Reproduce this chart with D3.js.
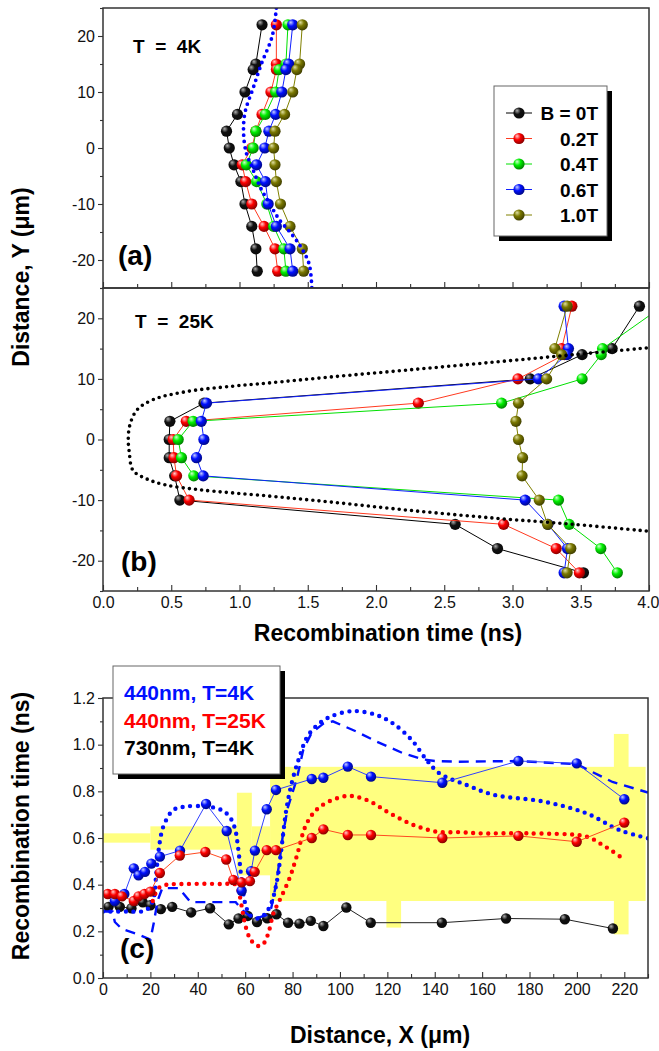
<!DOCTYPE html>
<html><head><meta charset="utf-8">
<script src="https://cdn.jsdelivr.net/npm/d3@7"></script>
<style>
body{margin:0;background:#fff}
text{font-family:"Liberation Sans",Arial,sans-serif}
</style>
</head><body>
<svg id="chart" width="659" height="1051"></svg>
<script>
// ---------------- DATA ----------------
// Panels (a) and (b): distance Y (um) positions
const yPositions = [22, 15, 14, 10, 6, 3, 0, -3, -6, -10, -14, -18, -22];
const fieldLabels = ["B = 0T", "0.2T", "0.4T", "0.6T", "1.0T"];

// (a) T = 4K recombination time (ns)
const a_B00 = [1.165, 1.12, 1.10, 1.04, 0.985, 0.905, 0.925, 0.96, 1.01, 1.04, 1.09, 1.12, 1.13];
const a_B02 = [1.27, 1.27, 1.27, 1.23, 1.165, 1.12, 1.09, 1.02, 1.045, 1.09, 1.18, 1.26, 1.28];
const a_B04 = [1.355, 1.34, 1.29, 1.265, 1.19, 1.12, 1.10, 1.05, 1.125, 1.20, 1.25, 1.325, 1.34];
const a_B06 = [1.39, 1.36, 1.34, 1.31, 1.265, 1.215, 1.185, 1.125, 1.19, 1.21, 1.27, 1.37, 1.39];
const a_B10 = [1.46, 1.44, 1.42, 1.39, 1.33, 1.26, 1.25, 1.26, 1.27, 1.30, 1.37, 1.46, 1.47];
// (a) blue dotted profile
const aFitY = [25, 20, 15, 10.7, 6.3, 2.6, -0.9, -3.3, -6.9, -9.9, -12.9, -15.3, -17.7, -20.7, -25];
const aFitX = [1.27, 1.24, 1.16, 1.10, 1.04, 1.03, 1.05, 1.09, 1.15, 1.22, 1.295, 1.38, 1.45, 1.51, 1.53];

// (b) T = 25K recombination time (ns)
const b_B00 = [3.93, 3.73, 3.51, 3.13, 0.74, 0.49, 0.485, 0.485, 0.525, 0.563, 2.58, 2.89, 3.52];
const b_B02 = [3.435, 3.36, 3.38, 3.04, 2.31, 0.61, 0.514, 0.52, 0.539, 0.631, 2.935, 3.32, 3.49];
const b_B04 = [4.1, 3.66, 3.65, 3.51, 2.92, 0.66, 0.551, 0.575, 0.665, 3.337, 3.415, 3.647, 3.768];
const b_B06 = [3.378, 3.41, 3.40, 3.19, 0.758, 0.72, 0.739, 0.685, 0.734, 3.093, 3.26, 3.403, 3.378];
const b_B10 = [3.40, 3.31, 3.36, 3.25, 3.044, 3.025, 3.044, 3.074, 3.07, 3.196, 3.257, 3.427, 3.40];
// (b) black dotted profile
const bFitY = [15.1, 14, 12.8, 11.5, 10.3, 9.3, 8.8, 7.9, 6.6, 4.9, 2.4, 0, -2, -5.1, -6.5, -7.5, -8.3, -9.3, -10.3, -11.7, -13, -14, -15.1];
const bFitX = [3.98, 3.45, 2.88, 2.25, 1.66, 1.2, 0.95, 0.61, 0.37, 0.25, 0.197, 0.185, 0.192, 0.22, 0.32, 0.46, 0.71, 1.2, 1.66, 2.25, 2.88, 3.45, 3.98];

// (c) recombination time vs distance X
const legendC = ["440nm, T=4K", "440nm, T=25K", "730nm, T=4K"];
const c730X = [2.3, 7.1, 12, 16.8, 20, 24.4, 29.2, 37.2, 45.2, 53.1, 57.2, 61.1, 65, 69.3, 73.2, 78.1, 82.9, 87.7, 93, 102.7, 113, 143, 170.1, 194.9, 215.2];
const c730V = [0.305, 0.305, 0.299, 0.324, 0.312, 0.295, 0.305, 0.281, 0.299, 0.23, 0.255, 0.266, 0.24, 0.256, 0.273, 0.237, 0.233, 0.245, 0.223, 0.302, 0.237, 0.237, 0.255, 0.252, 0.212];
const c440_4X = [5, 9, 13, 15, 17.7, 20.4, 24, 32.5, 43.5, 52.2, 58.5, 62.5, 64.1, 69.1, 73, 88.1, 93, 103.3, 113.1, 143.2, 175.3, 199.9, 220];
const c440_4V = [0.33, 0.36, 0.47, 0.44, 0.455, 0.49, 0.52, 0.546, 0.746, 0.63, 0.374, 0.458, 0.546, 0.723, 0.806, 0.853, 0.858, 0.906, 0.863, 0.837, 0.93, 0.92, 0.766];
const c440_25X = [2, 5, 8, 13, 15, 17.5, 20, 24, 32.4, 43.2, 52, 55, 58.5, 62, 64, 69.1, 73, 88.1, 93, 103.3, 113.1, 143.2, 175.3, 199.9, 220];
const c440_25V = [0.36, 0.36, 0.35, 0.33, 0.35, 0.36, 0.37, 0.45, 0.525, 0.54, 0.508, 0.42, 0.41, 0.415, 0.455, 0.548, 0.548, 0.6, 0.637, 0.613, 0.613, 0.6, 0.609, 0.584, 0.666];
// (c) blue dotted profile
const cDotBX = [0, 10, 18, 21, 22.5, 23.5, 25.5, 29.7, 35, 43.8, 50, 53.5, 55.7, 57, 58.5, 60, 62, 65, 68, 71, 73.5, 75, 77.5, 80, 83, 86, 90, 96, 105.6, 115.5, 122.5, 130.3, 136.6, 142, 153.5, 165, 186, 204, 218, 230];
const cDotBV = [0.285, 0.285, 0.29, 0.33, 0.45, 0.55, 0.65, 0.72, 0.735, 0.735, 0.72, 0.69, 0.64, 0.56, 0.42, 0.32, 0.27, 0.255, 0.27, 0.32, 0.42, 0.53, 0.73, 0.85, 0.95, 1.03, 1.08, 1.12, 1.144, 1.127, 1.09, 1.02, 0.934, 0.877, 0.827, 0.785, 0.756, 0.706, 0.634, 0.599];
// (c) blue dashed profile
const cDashBX = [0, 4, 5, 8, 14, 20, 21.5, 23, 25, 32, 37, 50, 56, 59, 62, 66, 69, 71, 73, 74.5, 76, 78, 81.7, 84.5, 88, 93, 97, 107, 115.5, 126.7, 135, 140, 150, 175, 200, 215, 230];
const cDashBV = [0.285, 0.285, 0.24, 0.21, 0.19, 0.165, 0.24, 0.33, 0.385, 0.385, 0.325, 0.325, 0.325, 0.29, 0.265, 0.26, 0.27, 0.3, 0.4, 0.5, 0.62, 0.73, 0.85, 0.977, 1.05, 1.09, 1.1, 1.056, 1.013, 0.963, 0.937, 0.93, 0.927, 0.93, 0.916, 0.84, 0.795];
// (c) red dotted profile
const cDotRX = [21, 22.5, 24, 27, 35, 50, 56, 57.5, 59, 60.5, 62, 64, 66, 68, 70, 72, 74.4, 78.8, 81.7, 86, 91.6, 102.8, 111.3, 121.1, 131, 140.8, 150.7, 159, 178.8, 204.1, 209.7, 214, 219];
const cDotRV = [0.33, 0.37, 0.39, 0.4, 0.403, 0.403, 0.4, 0.36, 0.28, 0.21, 0.17, 0.145, 0.137, 0.15, 0.2, 0.28, 0.33, 0.43, 0.52, 0.663, 0.734, 0.78, 0.763, 0.706, 0.656, 0.627, 0.625, 0.62, 0.62, 0.606, 0.577, 0.55, 0.515];
// (c) yellow shaded regions: [x0, x1] and [lo, hi]
const bandX0 = [0, 20, 56.5, 62.8, 70.5, 119.6, 215.6];
const bandX1 = [20, 56.5, 62.8, 70.5, 229, 125.8, 221.8];
const bandLo = [0.58, 0.55, 0.44, 0.44, 0.33, 0.216, 0.187];
const bandHi = [0.62, 0.65, 0.794, 0.65, 0.905, 0.34, 1.046];

// tick values
const yTicksAB = [-20, -10, 0, 10, 20];
const yMinorAB = [-25, -15, -5, 5, 15, 25];
const xTicksAB = [0, 0.5, 1, 1.5, 2, 2.5, 3, 3.5, 4];
const xMinorAB = [0.25, 0.75, 1.25, 1.75, 2.25, 2.75, 3.25, 3.75];
const yTicksC = [0, 0.2, 0.4, 0.6, 0.8, 1.0, 1.2];
const yMinorC = [0.1, 0.3, 0.5, 0.7, 0.9, 1.1];
const xTicksC = [0, 20, 40, 60, 80, 100, 120, 140, 160, 180, 200, 220];
const xMinorC = [10, 30, 50, 70, 90, 110, 130, 150, 170, 190, 210, 230];

// ---------------- DRAWING ----------------
const svg = d3.select("#chart");
const defs = svg.append("defs");
const AXC = "#333";

function sphereGrad(id, color, hi) {
  const g = defs.append("radialGradient").attr("id", id)
    .attr("cx", "40%").attr("cy", "38%").attr("r", "65%").attr("fx", "32%").attr("fy", "28%");
  g.append("stop").attr("offset", "0%").attr("stop-color", hi);
  g.append("stop").attr("offset", "45%").attr("stop-color", color);
  g.append("stop").attr("offset", "100%").attr("stop-color", d3.interpolateRgb(color, "#000")(0.5));
}
sphereGrad("gK", "#111", "#b0b0b0");
sphereGrad("gR", "#ff0000", "#ffd0d0");
sphereGrad("gG", "#00f000", "#d0ffd0");
sphereGrad("gB", "#0010ff", "#c8d0ff");
sphereGrad("gO", "#7a7800", "#e0e0a0");

const xAB = d3.scaleLinear().domain([0, 4]).range([103, 649]);
const yA = d3.scaleLinear().domain([-25, 25]).range([288, 8]);
const yB = d3.scaleLinear().domain([-25, 25]).range([591, 288]);
const xC = d3.scaleLinear().domain([0, 230]).range([103, 648]);
const yC = d3.scaleLinear().domain([0, 1.2]).range([978, 698]);

function clip(id, xs, ys) {
  defs.append("clipPath").attr("id", id).append("rect")
    .attr("x", xs.range()[0]).attr("y", ys.range()[1])
    .attr("width", xs.range()[1] - xs.range()[0]).attr("height", ys.range()[0] - ys.range()[1]);
}
clip("cA", xAB, yA); clip("cB", xAB, yB); clip("cC", xC, yC);

function styleAxis(g) {
  g.select(".domain").remove();
  g.selectAll(".tick line").attr("stroke", AXC).attr("stroke-width", 1.1);
  g.selectAll(".tick text").attr("fill", "#111").attr("font-size", 16)
    .attr("font-family", '"Liberation Sans",Arial,sans-serif');
}
function leftAxis(xs, ys, major, minor, fmt) {
  const x0 = xs.range()[0];
  svg.append("g").attr("transform", `translate(${x0},0)`)
    .call(d3.axisLeft(ys).tickValues(minor).tickSize(3).tickFormat(""))
    .call(styleAxis);
  svg.append("g").attr("transform", `translate(${x0},0)`)
    .call(d3.axisLeft(ys).tickValues(major).tickSize(5).tickPadding(3).tickFormat(fmt))
    .call(styleAxis);
}
function bottomAxis(xs, ys, major, minor, fmt, labels) {
  const y0 = ys.range()[0];
  svg.append("g").attr("transform", `translate(0,${y0})`)
    .call(d3.axisTop(xs).tickValues(minor).tickSize(4).tickFormat(""))
    .call(styleAxis);
  svg.append("g").attr("transform", `translate(0,${y0})`)
    .call(d3.axisTop(xs).tickValues(major).tickSize(6).tickFormat(""))
    .call(styleAxis);
  if (labels) {
    return svg.append("g").attr("transform", `translate(0,${y0})`)
      .call(d3.axisBottom(xs).tickValues(major).tickSize(0).tickPadding(6).tickFormat(fmt))
      .call(styleAxis);
  }
  return null;
}
function frame(xs, ys) {
  svg.append("rect").attr("x", xs.range()[0]).attr("y", ys.range()[1])
    .attr("width", xs.range()[1] - xs.range()[0]).attr("height", ys.range()[0] - ys.range()[1])
    .attr("fill", "none").attr("stroke", AXC).attr("stroke-width", 1.5);
}
function dotted(g, pts, xs, ys, color, w, gap, curve) {
  g.append("path").datum(pts)
    .attr("d", d3.line().x(d => xs(d[0])).y(d => ys(d[1])).curve(curve || d3.curveCatmullRom))
    .attr("fill", "none").attr("stroke", color).attr("stroke-width", w)
    .attr("stroke-linecap", "round").attr("stroke-dasharray", `0,${gap}`);
}
function series(g, pts, xs, ys, lineColor, grad, r) {
  g.append("path").datum(pts)
    .attr("d", d3.line().x(d => xs(d[0])).y(d => ys(d[1])))
    .attr("fill", "none").attr("stroke", lineColor).attr("stroke-width", 1);
  g.selectAll(null).data(pts).join("circle")
    .attr("cx", d => xs(d[0])).attr("cy", d => ys(d[1])).attr("r", r)
    .attr("fill", `url(#${grad})`);
}
const fmtInt = d => String(d);
const fmt1 = d => d.toFixed(1);

// ---- Panel (a) & (b) ----
const abSeries = [
  {a: a_B00, b: b_B00, line: "#000", grad: "gK"},
  {a: a_B02, b: b_B02, line: "#ff3a20", grad: "gR"},
  {a: a_B04, b: b_B04, line: "#00e000", grad: "gG"},
  {a: a_B06, b: b_B06, line: "#1020ff", grad: "gB"},
  {a: a_B10, b: b_B10, line: "#808000", grad: "gO"}
];
const gA = svg.append("g").attr("clip-path", "url(#cA)");
const gB = svg.append("g").attr("clip-path", "url(#cB)");
abSeries.forEach(s => {
  series(gA, s.a.map((v, i) => [v, yPositions[i]]), xAB, yA, s.line, s.grad, 5.6);
});
abSeries.forEach(s => {
  series(gB, s.b.map((v, i) => [v, yPositions[i]]), xAB, yB, s.line, s.grad, 5.6);
});
dotted(gA, aFitX.map((v, i) => [v, aFitY[i]]), xAB, yA, "#0000ff", 3.8, 6.3);
dotted(gB, bFitX.map((v, i) => [v, bFitY[i]]), xAB, yB, "#000", 3.6, 6.2);

leftAxis(xAB, yA, yTicksAB, yMinorAB, fmtInt);
leftAxis(xAB, yB, yTicksAB, yMinorAB, fmtInt);
bottomAxis(xAB, yA, xTicksAB, xMinorAB, fmt1, false);
const bxAxis = bottomAxis(xAB, yB, xTicksAB, xMinorAB, fmt1, true);
bxAxis.selectAll(".tick text").filter(d => d === 4).attr("text-anchor", "end").attr("dx", 10);
frame(xAB, yA); frame(xAB, yB);

// labels in (a)/(b)
svg.append("text").attr("x", 133).attr("y", 53).attr("font-size", 19).attr("font-weight", "bold")
  .style("white-space", "pre").text("T  =  4K");
svg.append("text").attr("x", 118).attr("y", 265).attr("font-size", 28).attr("font-weight", "bold").text("(a)");
svg.append("text").attr("x", 135).attr("y", 328).attr("font-size", 19).attr("font-weight", "bold")
  .style("white-space", "pre").text("T  =  25K");
svg.append("text").attr("x", 121).attr("y", 571).attr("font-size", 28).attr("font-weight", "bold").text("(b)");

// legend (a)
const lg = svg.append("g");
lg.append("rect").attr("x", 499).attr("y", 91).attr("width", 113).attr("height", 150).attr("fill", "#000");
lg.append("rect").attr("x", 494).attr("y", 86).attr("width", 113).attr("height", 150)
  .attr("fill", "#fff").attr("stroke", "#666").attr("stroke-width", 1);
const legRows = d3.scaleLinear().domain([0, 4]).range([113, 215]);
fieldLabels.forEach((t, i) => {
  const y = legRows(i);
  lg.append("line").attr("x1", 506).attr("x2", 532).attr("y1", y).attr("y2", y)
    .attr("stroke", abSeries[i].line).attr("stroke-width", 1);
  lg.append("circle").attr("cx", 519).attr("cy", y).attr("r", 5.6).attr("fill", `url(#${abSeries[i].grad})`);
  lg.append("text").attr("x", 598).attr("y", y + 7).attr("text-anchor", "end")
    .attr("font-size", 19).attr("font-weight", "bold").text(t);
});

// axis titles (a)/(b)
svg.append("text").attr("transform", "translate(29,277) rotate(-90)").attr("text-anchor", "middle")
  .attr("font-size", 23).attr("font-weight", "bold").text("Distance, Y (\u03bcm)");
svg.append("text").attr("x", 388).attr("y", 641).attr("text-anchor", "middle")
  .attr("font-size", 23).attr("font-weight", "bold").text("Recombination time (ns)");

// ---- Panel (c) ----
const gC = svg.append("g").attr("clip-path", "url(#cC)");
gC.selectAll(null).data(bandX0.map((x0, i) => ({x0, x1: bandX1[i], lo: bandLo[i], hi: bandHi[i]})))
  .join("rect")
  .attr("x", d => xC(d.x0)).attr("width", d => xC(d.x1) - xC(d.x0))
  .attr("y", d => yC(d.hi)).attr("height", d => yC(d.lo) - yC(d.hi))
  .attr("fill", "#ffff80");

series(gC, c730X.map((x, i) => [x, c730V[i]]), xC, yC, "#222", "gK", 5.2);
gC.append("path").datum(cDashBX.map((x, i) => [x, cDashBV[i]]))
  .attr("d", d3.line().x(d => xC(d[0])).y(d => yC(d[1])).curve(d3.curveLinear))
  .attr("fill", "none").attr("stroke", "#0010ff").attr("stroke-width", 2.4).attr("stroke-dasharray", "10,7");
dotted(gC, cDotBX.map((x, i) => [x, cDotBV[i]]), xC, yC, "#0010ff", 4.4, 7.6);
dotted(gC, cDotRX.map((x, i) => [x, cDotRV[i]]), xC, yC, "#ff0000", 4.4, 7.6);
series(gC, c440_4X.map((x, i) => [x, c440_4V[i]]), xC, yC, "#3040ff", "gB", 5.2);
series(gC, c440_25X.map((x, i) => [x, c440_25V[i]]), xC, yC, "#ff4a20", "gR", 5.2);

leftAxis(xC, yC, yTicksC, yMinorC, fmt1);
bottomAxis(xC, yC, xTicksC, xMinorC, fmtInt, true);
frame(xC, yC);

svg.append("text").attr("x", 120).attr("y", 958).attr("font-size", 28).attr("font-weight", "bold").text("(c)");

// legend (c)
const lc = svg.append("g");
lc.append("rect").attr("x", 118).attr("y", 671).attr("width", 167).attr("height", 108).attr("fill", "#000");
lc.append("rect").attr("x", 113).attr("y", 666).attr("width", 167).attr("height", 108)
  .attr("fill", "#fff").attr("stroke", "#666").attr("stroke-width", 1);
const legColors = ["#0010ff", "#ff0000", "#000"];
const legY = d3.scaleLinear().domain([0, 2]).range([700, 755]);
legendC.forEach((t, i) => {
  lc.append("text").attr("x", 124).attr("y", legY(i)).attr("font-size", 21).attr("font-weight", "bold")
    .attr("fill", legColors[i]).text(t);
});

svg.append("text").attr("transform", "translate(29,826) rotate(-90)").attr("text-anchor", "middle")
  .attr("font-size", 23).attr("font-weight", "bold").text("Recombination time (ns)");
svg.append("text").attr("x", 380).attr("y", 1043).attr("text-anchor", "middle")
  .attr("font-size", 23).attr("font-weight", "bold").text("Distance, X (\u03bcm)");
</script>
</body></html>
